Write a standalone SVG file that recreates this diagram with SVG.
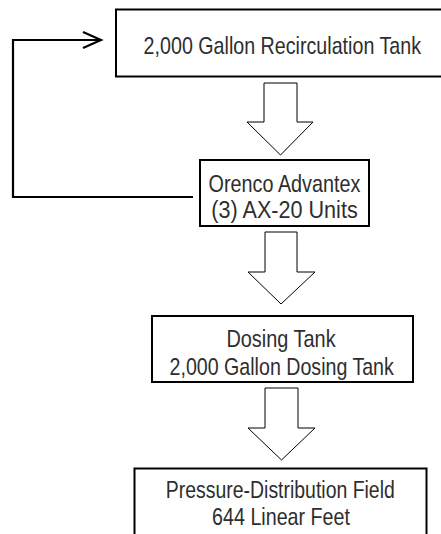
<svg xmlns="http://www.w3.org/2000/svg" width="441" height="534" viewBox="0 0 441 534">
<style>
.box{fill:#fff;stroke:#000;stroke-width:2}
.blk{fill:#fff;stroke:#000;stroke-width:1;stroke-linejoin:miter}
.lbl{font-family:"Liberation Sans",Arial,sans-serif;font-size:24px;fill:#2e2e2e;text-anchor:middle}
.fb{fill:none;stroke:#000;stroke-width:2.2}
</style>
<rect width="441" height="534" fill="#fff"/>
<g id="connectors">
<polyline class="fb" points="193,197 13,197 13,40 100,40"/>
<polyline class="fb" points="83,32 101,40 83,48"/>
<polygon class="blk" points="264,83 297,83 297,122 313,122 280.5,155 247,122 264,122"/>
<polygon class="blk" points="265,232 297,232 297,272 315,272 281,304 248,272 265,272"/>
<polygon class="blk" points="265,388 298,388 298,428 315,428 281.5,460 248,428 265,428"/>
</g>
<g id="recirc-tank">
<rect class="box" x="116" y="9.5" width="340" height="67"/>
<text class="lbl" transform="translate(282.3,54.3) scale(0.82,1)">2,000 Gallon Recirculation Tank</text>
</g>
<g id="advantex">
<rect class="box" x="200" y="160" width="169" height="66"/>
<text class="lbl" transform="translate(284.5,192) scale(0.825,1)">Orenco Advantex</text>
<text class="lbl" transform="translate(284.5,218.3) scale(0.9,1)">(3) AX-20 Units</text>
</g>
<g id="dosing-tank">
<rect class="box" x="152" y="316" width="261" height="66"/>
<text class="lbl" transform="translate(281,346.7) scale(0.83,1)">Dosing Tank</text>
<text class="lbl" transform="translate(281.7,375) scale(0.818,1)">2,000 Gallon Dosing Tank</text>
</g>
<g id="pressure-field">
<rect class="box" x="134.5" y="468.5" width="292" height="80"/>
<text class="lbl" transform="translate(280.3,497.7) scale(0.81,1)">Pressure-Distribution Field</text>
<text class="lbl" transform="translate(281,525) scale(0.82,1)">644 Linear Feet</text>
</g>
</svg>
